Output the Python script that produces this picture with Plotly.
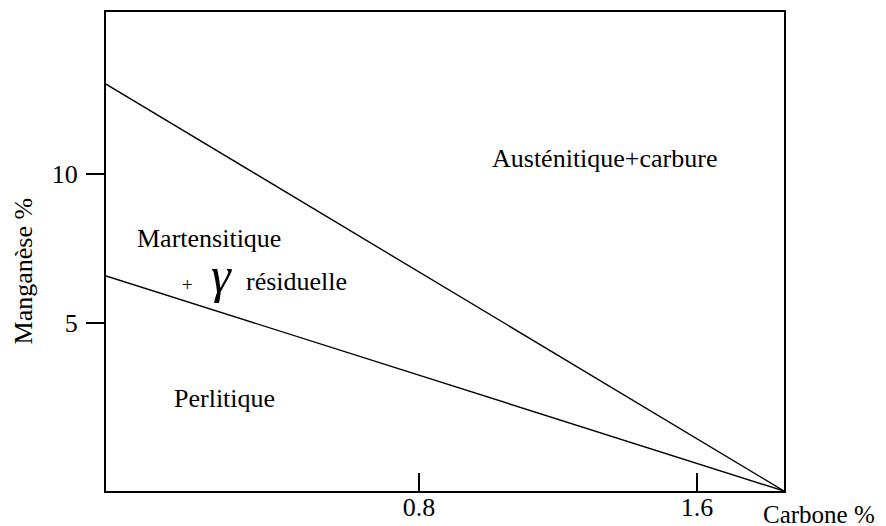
import plotly.graph_objects as go

# Boundary lines (Carbone %, Manganèse %)
upper_x = [-0.10, 1.85]
upper_y = [13.02, -0.64]
lower_x = [-0.10, 1.85]
lower_y = [6.58, -0.64]

x_ticks = [0.8, 1.6]
x_tick_text = ["0.8", "1.6"]
y_ticks = [5, 10]
y_tick_text = ["5", "10"]

regions = ["Austénitique+carbure", "Martensitique", "+", "γ", "résiduelle", "Perlitique"]
region_x = [1.335, 0.196, 0.135, 0.233, 0.447, 0.24]
region_y = [10.52, 7.82, 6.30, 6.60, 6.38, 2.48]
region_size = [26, 26, 19, 50, 26, 26]
region_italic = [False, False, False, True, False, False]

FONT = "'Liberation Serif', 'Times New Roman', serif"

fig = go.Figure()
fig.add_trace(go.Scatter(x=upper_x, y=upper_y, mode="lines",
                         line=dict(color="black", width=1.4), showlegend=False, hoverinfo="skip"))
fig.add_trace(go.Scatter(x=lower_x, y=lower_y, mode="lines",
                         line=dict(color="black", width=1.4), showlegend=False, hoverinfo="skip"))

annotations = []
for txt, xx, yy, sz, it in zip(regions, region_x, region_y, region_size, region_italic):
    annotations.append(dict(
        x=xx, y=yy, xref="x", yref="y", xanchor="center", yanchor="middle",
        text=("<i>%s</i>" % txt) if it else txt, showarrow=False,
        font=dict(family=FONT, size=sz, color="black")))

annotations.append(dict(x=-0.122, y=0.459, xref="paper", yref="paper", text="Manganèse %",
                        xanchor="center", yanchor="middle",
                        textangle=-90, showarrow=False, font=dict(family=FONT, size=26, color="black")))
annotations.append(dict(x=1.052, y=-0.050, xref="paper", yref="paper", text="Carbone %",
                        xanchor="center", yanchor="middle",
                        showarrow=False, font=dict(family=FONT, size=25, color="black")))

fig.update_layout(
    width=886, height=526,
    margin=dict(l=98, r=110, t=4, b=43, autoexpand=False),
    plot_bgcolor="white", paper_bgcolor="white",
    font=dict(family=FONT, size=26, color="black"),
    annotations=annotations,
    xaxis=dict(range=[-0.10, 1.85], showgrid=False, zeroline=False, automargin=False,
               showline=True, mirror=True, linecolor="black", linewidth=2,
               ticks="inside", ticklen=18, tickwidth=1.5, tickcolor="black",
               tickvals=x_ticks, ticktext=x_tick_text, ticklabelstandoff=-8,
               tickfont=dict(family=FONT, size=26, color="black")),
    yaxis=dict(range=[-0.64, 15.44], showgrid=False, zeroline=False, automargin=False,
               showline=True, mirror=True, linecolor="black", linewidth=2,
               ticks="outside", ticklen=18, tickwidth=1.5, tickcolor="black",
               tickvals=y_ticks, ticktext=y_tick_text, ticklabelstandoff=3,
               tickfont=dict(family=FONT, size=26, color="black")),
)

fig.write_html("out.html")
